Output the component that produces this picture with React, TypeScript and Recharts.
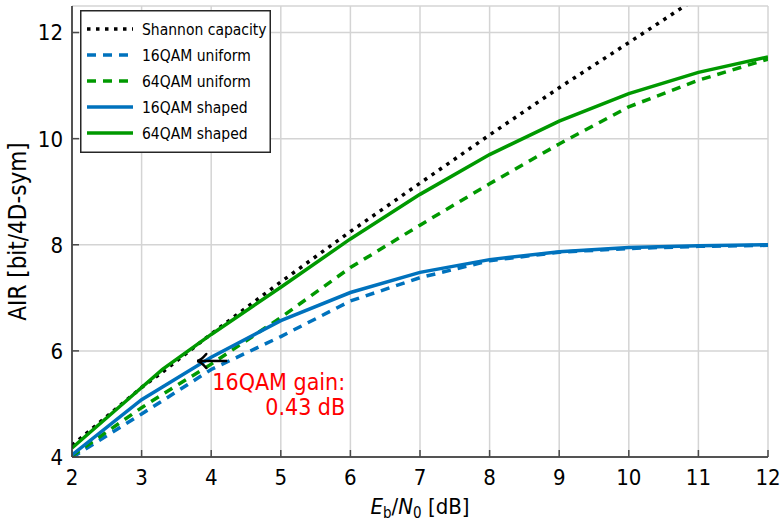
import React from 'react';
import { LineChart, Line, XAxis, YAxis, CartesianGrid, ReferenceLine, Legend } from 'recharts';

// Eb/N0 sample points [dB]
const ebn0 = [2, 3, 3.3, 4, 5, 6, 7, 8, 9, 10, 11, 12];
// achievable information rates [bit/4D-sym]
const shannon = [4.22, 5.31, 5.6, 6.32, 7.3, 8.25, 9.16, 10.07, 10.96, 11.81, 12.67, 13.51];
const qam16Uniform = [3.99, 4.81, 5.06, 5.65, 6.27, 6.94, 7.38, 7.7, 7.86, 7.93, 7.97, 7.99];
const qam64Uniform = [4.02, 4.93, 5.18, 5.75, 6.63, 7.57, 8.37, 9.15, 9.9, 10.6, 11.1, 11.5];
const qam16Shaped = [4.04, 5.08, 5.32, 5.88, 6.57, 7.1, 7.48, 7.72, 7.87, 7.95, 7.98, 8.0];
const qam64Shaped = [4.17, 5.31, 5.65, 6.31, 7.2, 8.11, 8.95, 9.7, 10.33, 10.85, 11.25, 11.54];

const xTicks = [2, 3, 4, 5, 6, 7, 8, 9, 10, 11, 12];
const yTicks = [4, 6, 8, 10, 12];

// shaping gain of 16QAM at the marked rate
const gainRate = 5.81;
const gainShaped = 3.8;
const gainUniform = 4.23;

const FONT = "'DejaVu Sans Condensed', 'DejaVu Sans', sans-serif";
const BLUE = '#0072bd';
const GREEN = '#009900';
const TICK = '#4a4a4a';
const FRAME = '#262626';

const series = [
  { key: 'shannon', name: 'Shannon capacity', color: '#000000', dash: '3.5 5.5', values: shannon },
  { key: 'u16', name: '16QAM uniform', color: BLUE, dash: '9 7', values: qam16Uniform },
  { key: 'u64', name: '64QAM uniform', color: GREEN, dash: '9 7', values: qam64Uniform },
  { key: 's16', name: '16QAM shaped', color: BLUE, dash: undefined, values: qam16Shaped },
  { key: 's64', name: '64QAM shaped', color: GREEN, dash: undefined, values: qam64Shaped },
];

const rows = ebn0.map((x, i) => {
  const r: Record<string, number> = { x };
  series.forEach((s) => {
    r[s.key] = s.values[i];
  });
  return r;
});

const BottomTick = (props: any) => {
  const { x, y, payload } = props;
  return (
    <g>
      <line x1={x} y1={y} x2={x} y2={y - 7} stroke={TICK} strokeWidth={1.5} />
      <text x={x} y={y + 28} textAnchor="middle" fontSize={22} fontFamily={FONT} fill="#000">
        {payload.value}
      </text>
    </g>
  );
};

const TopTick = (props: any) => {
  const { x, y } = props;
  return <line x1={x} y1={y} x2={x} y2={y + 7} stroke={TICK} strokeWidth={1.5} />;
};

const LeftTick = (props: any) => {
  const { x, y, payload } = props;
  return (
    <g>
      <line x1={x} y1={y} x2={x + 7} y2={y} stroke={TICK} strokeWidth={1.5} />
      <text x={x - 9} y={y} dy="0.36em" textAnchor="end" fontSize={22} fontFamily={FONT} fill="#000">
        {payload.value}
      </text>
    </g>
  );
};

const RightTick = (props: any) => {
  const { x, y } = props;
  return <line x1={x} y1={y} x2={x - 7} y2={y} stroke={TICK} strokeWidth={1.5} />;
};

const XLabel = (props: any) => {
  const { viewBox } = props;
  const cx = viewBox.x + viewBox.width / 2;
  const y = viewBox.y + 57;
  return (
    <text x={cx} y={y} textAnchor="middle" fontSize={22} fontFamily={FONT} fill="#000">
      <tspan fontStyle="italic">E</tspan>
      <tspan fontSize={15} dy={4}>b</tspan>
      <tspan dy={-4}>/</tspan>
      <tspan fontStyle="italic">N</tspan>
      <tspan fontSize={15} dy={4}>0</tspan>
      <tspan dy={-4}> [dB]</tspan>
    </text>
  );
};

const YLabel = (props: any) => {
  const { viewBox } = props;
  const cx = 18;
  const cy = viewBox.y + viewBox.height / 2;
  return (
    <text
      x={cx}
      y={cy}
      transform={`rotate(-90 ${cx} ${cy})`}
      textAnchor="middle"
      dominantBaseline="central"
      fontSize={24}
      fontFamily={FONT}
      fill="#000"
    >
      AIR [bit/4D-sym]
    </text>
  );
};

const GainArrow = (props: any) => {
  const { x1, y1, x2, y2 } = props;
  return (
    <g>
      <line x1={x1} y1={y1} x2={x2 + 2} y2={y2} stroke="#000" strokeWidth={2.5} />
      <path
        d={`M ${x2 + 9} ${y2 - 7} Q ${x2 + 4} ${y2 - 1} ${x2} ${y2} Q ${x2 + 4} ${y2 + 1} ${x2 + 9} ${y2 + 7}`}
        fill="none"
        stroke="#000"
        strokeWidth={2.5}
        strokeLinecap="round"
      />
      <text x={x1 + 118} y={y1 + 29} textAnchor="end" fontSize={23} fontFamily={FONT} fill="#ff0000">
        16QAM gain:
      </text>
      <text x={x1 + 118} y={y1 + 54} textAnchor="end" fontSize={23} fontFamily={FONT} fill="#ff0000">
        0.43 dB
      </text>
    </g>
  );
};

const LegendBox = () => (
  <svg width={191} height={143} style={{ display: 'block' }}>
    <rect x={0.75} y={0.75} width={189.5} height={141.5} fill="#fff" stroke={FRAME} strokeWidth={1.5} />
    {series.map((s, i) => {
      const cy = 19 + i * 26;
      return (
        <g key={s.key}>
          <line
            x1={7}
            y1={cy}
            x2={53}
            y2={cy}
            stroke={s.color}
            strokeWidth={3.5}
            strokeDasharray={s.dash}
          />
          <text x={62} y={cy} dy="0.36em" fontSize={15.5} fontFamily={FONT} fill="#000">
            {s.name}
          </text>
        </g>
      );
    })}
  </svg>
);

export default function App() {
  return (
    <div style={{ position: 'absolute', left: 0, top: 0, width: 784, height: 522, background: '#fff' }}>
      <LineChart width={784} height={522} data={rows} margin={{ top: 6, right: 16, bottom: 5, left: 0 }}>
        <CartesianGrid stroke="#d4d4d4" strokeWidth={1.5} />
        <XAxis
          dataKey="x"
          type="number"
          domain={[2, 12]}
          ticks={xTicks}
          interval={0}
          allowDataOverflow
          height={60}
          tickSize={0}
          tickMargin={0}
          tickLine={false}
          tick={<BottomTick />}
          axisLine={{ stroke: FRAME, strokeWidth: 1.5 }}
          label={<XLabel />}
        />
        <XAxis
          xAxisId="top"
          orientation="top"
          dataKey="x"
          type="number"
          domain={[2, 12]}
          ticks={xTicks}
          interval={0}
          allowDataOverflow
          height={0}
          tickSize={0}
          tickMargin={0}
          tickLine={false}
          tick={<TopTick />}
          axisLine={{ stroke: FRAME, strokeWidth: 1.5 }}
        />
        <YAxis
          type="number"
          domain={[4, 12.5]}
          ticks={yTicks}
          interval={0}
          allowDataOverflow
          width={72}
          tickSize={0}
          tickMargin={0}
          tickLine={false}
          tick={<LeftTick />}
          axisLine={{ stroke: FRAME, strokeWidth: 1.5 }}
          label={<YLabel />}
        />
        <YAxis
          yAxisId="right"
          orientation="right"
          type="number"
          domain={[4, 12.5]}
          ticks={yTicks}
          interval={0}
          allowDataOverflow
          width={0}
          tickSize={0}
          tickMargin={0}
          tickLine={false}
          tick={<RightTick />}
          axisLine={{ stroke: FRAME, strokeWidth: 1.5 }}
        />
        {series.map((s) => (
          <Line
            key={s.key}
            dataKey={s.key}
            name={s.name}
            type="linear"
            stroke={s.color}
            strokeWidth={3.5}
            strokeDasharray={s.dash}
            dot={false}
            activeDot={false}
            isAnimationActive={false}
          />
        ))}
        <ReferenceLine
          segment={[
            { x: gainUniform, y: gainRate },
            { x: gainShaped, y: gainRate },
          ]}
          shape={<GainArrow />}
        />
        <Legend
          layout="vertical"
          align="center"
          verticalAlign="middle"
          wrapperStyle={{ left: 80, top: 10, width: 191, height: 143 }}
          content={<LegendBox />}
        />
      </LineChart>
    </div>
  );
}
